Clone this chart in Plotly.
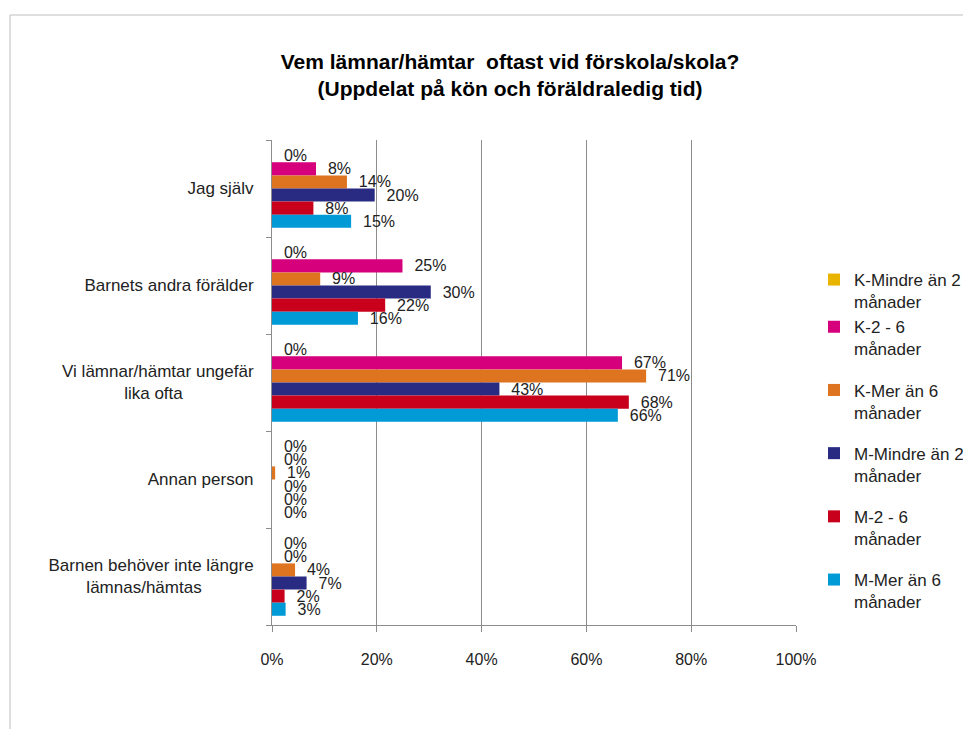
import plotly.graph_objects as go

categories = ["Jag själv", "Barnets andra förälder", "Vi lämnar/hämtar ungefär<br>lika ofta",
              "Annan person", "Barnen behöver inte längre<br>lämnas/hämtas"]

series_names = ["K-Mindre än 2<br>månader", "K-2 - 6<br>månader", "K-Mer än 6<br>månader",
                "M-Mindre än 2<br>månader", "M-2 - 6<br>månader", "M-Mer än 6<br>månader"]

k_mindre_2 = [0, 0, 0, 0, 0]
k_2_6 = [8.4, 24.9, 66.8, 0, 0]
k_mer_6 = [14.3, 9.2, 71.4, 0.6, 4.4]
m_mindre_2 = [19.6, 30.3, 43.4, 0, 6.6]
m_2_6 = [7.9, 21.6, 68.1, 0, 2.4]
m_mer_6 = [15.1, 16.4, 66.0, 0, 2.6]

series_values = [k_mindre_2, k_2_6, k_mer_6, m_mindre_2, m_2_6, m_mer_6]
colors = ["#E8B400", "#D6007D", "#DE7320", "#292A82", "#C8001C", "#009AD6"]
groups = ["g1", "g1", "g2", "g3", "g4", "g5"]

x_ticks = [0, 20, 40, 60, 80, 100]
x_ticklabels = ["0%", "20%", "40%", "60%", "80%", "100%"]

# centre the second line of wrapped category labels (tick labels are right-aligned)
NB = "\u00a0"
tick_text = ["Jag själv", "Barnets andra förälder",
             "Vi lämnar/hämtar ungefär<br>lika ofta" + NB * 15,
             "Annan person",
             "Barnen behöver inte längre<br>lämnas/hämtas" + NB * 11]

fig = go.Figure()
for name, vals, col, grp in zip(series_names, series_values, colors, groups):
    fig.add_trace(go.Bar(
        y=categories, x=vals, name=name, orientation="h",
        marker=dict(color=col, line=dict(width=0)),
        text=[f"{NB}{NB}{v:.0f}%" for v in vals],
        textposition="outside", constraintext="none", cliponaxis=False,
        textfont=dict(family="Liberation Sans, Arial", size=16, color="#222222"),
        legendgroup=grp,
    ))

OFF = 8  # page body margin
W, H = 971, 729
L, T = 272 - OFF, 140 - OFF
pw, ph = 524, 485
R, B = W - L - pw, H - T - ph

def px_x(sx):
    return (sx - OFF - L) / pw

def px_y(sy):
    return (T + ph - (sy - OFF)) / ph

fig.update_layout(
    width=W, height=H,
    margin=dict(l=L, r=R, t=T, b=B, autoexpand=False),
    paper_bgcolor="white", plot_bgcolor="white",
    barmode="group", bargap=0.19, bargroupgap=0,
    font=dict(family="Liberation Sans, Arial", size=16, color="#222222"),
    title=dict(
        text="<b>Vem lämnar/hämtar  oftast vid förskola/skola?<br>(Uppdelat på kön och föräldraledig tid)</b>",
        x=(510 - OFF) / W, xref="container", xanchor="center",
        y=1 - (69 - OFF) / H, yref="container", yanchor="middle",
        font=dict(family="Liberation Sans, Arial", size=21, color="#000000"),
    ),
    xaxis=dict(
        range=[0, 100], tickvals=x_ticks, ticktext=x_ticklabels,
        showgrid=True, gridcolor="#8C8C8C", gridwidth=1,
        showline=True, linecolor="#8C8C8C", linewidth=1,
        ticks="outside", ticklen=6, tickcolor="#8C8C8C",
        ticklabelstandoff=14, zeroline=False,
        tickfont=dict(size=16, color="#222222"),
    ),
    yaxis=dict(
        autorange="reversed", showline=True, linecolor="#8C8C8C", linewidth=1,
        ticks="outside", ticklen=5, tickcolor="#8C8C8C", tickson="boundaries",
        ticklabelstandoff=14, showgrid=False,
        tickvals=categories, ticktext=tick_text,
        tickfont=dict(size=17, color="#222222"),
    ),
    legend=dict(
        x=px_x(814), xanchor="left", y=px_y(262), yanchor="top",
        traceorder="grouped", tracegroupgap=16, valign="top",
        font=dict(size=17, color="#222222"), bgcolor="rgba(0,0,0,0)",
    ),
    showlegend=True,
    shapes=[dict(type="rect", xref="paper", yref="paper",
                 x0=px_x(10), x1=px_x(990), y0=px_y(745), y1=px_y(15),
                 line=dict(color="#BFBFBF", width=1), fillcolor="rgba(0,0,0,0)", layer="below")],
)

fig.write_html("out.html")
